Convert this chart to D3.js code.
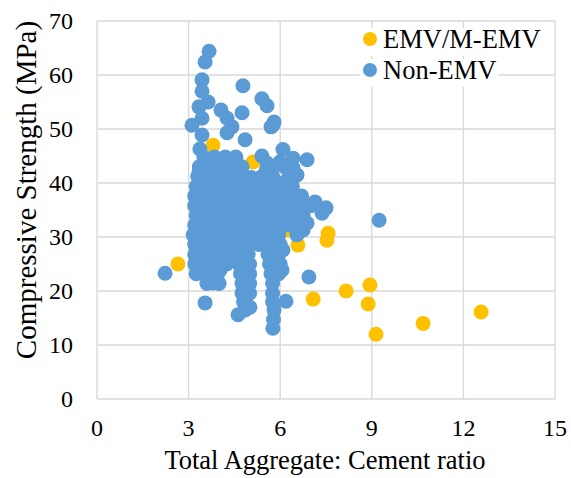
<!DOCTYPE html>
<html>
<head>
<meta charset="utf-8">
<title>Compressive strength vs aggregate:cement ratio</title>
<script src="https://cdn.jsdelivr.net/npm/d3@7/dist/d3.min.js"></script>
<style>
    body { margin: 0; background: #fff; overflow: hidden; }
    text { font-family: "Liberation Serif", "Times New Roman", serif; fill: #000; }
</style>
</head>
<body>
<div id="container"></div>
<script>
// tick labels
var xTicks = [0, 3, 6, 9, 12, 15];
var yTicks = [0, 10, 20, 30, 40, 50, 60, 70];

var seriesNames = ["EMV/M-EMV", "Non-EMV"];
var seriesColors = ["#FFC000", "#5B9BD5"];

// EMV/M-EMV points [ratio, MPa]
var emv = [
    [3.80, 47.0], [5.11, 43.9], [2.65, 25.0], [3.93, 29.8], [6.58, 28.5],
    [7.57, 30.7], [7.53, 29.4], [8.94, 21.1], [8.16, 20.0], [7.08, 18.5],
    [8.88, 17.6], [10.68, 14.0], [12.58, 16.1], [9.14, 12.0], [5.99, 35.6],
    [6.09, 31.9], [3.87, 39.1], [4.50, 33.5], [5.30, 36.5], [5.60, 30.0],
    [4.20, 27.0], [5.00, 38.5], [4.70, 42.0], [6.30, 33.0], [5.50, 31.5],
    [6.20, 31.3]
];

// Non-EMV points [ratio, MPa]
var nonEmv = [
    // upper scatter
    [3.67, 64.4], [3.54, 62.4], [3.44, 59.1], [3.44, 57.0], [4.78, 58.0],
    [5.40, 55.6], [5.57, 54.3], [3.64, 55.0], [3.34, 54.1], [4.06, 53.5],
    [4.75, 53.0], [4.26, 52.0], [3.44, 52.0], [5.80, 51.3], [5.70, 50.4],
    [5.76, 50.7], [3.11, 50.7], [4.42, 50.4], [4.26, 49.3], [3.44, 48.9],
    [4.85, 48.0], [6.09, 46.2], [3.37, 46.3], [3.34, 42.0], [5.40, 45.0],
    [5.57, 43.7], [5.99, 43.9], [6.42, 44.6], [6.88, 44.3], [6.42, 42.8],
    [6.55, 41.5], [6.16, 40.2], [5.57, 40.2], [6.65, 37.4], [7.14, 36.5],
    [7.50, 35.4], [7.37, 34.4], [6.88, 32.6], [6.75, 31.3], [6.55, 30.4],
    [5.76, 31.3], [5.76, 35.4], [5.24, 37.4],
    // dense core
    [3.50, 44.8], [3.85, 44.8], [4.20, 44.8], [4.55, 44.8],
    [3.35, 43.0], [3.70, 43.0], [4.05, 43.0], [4.40, 43.0], [4.75, 43.0], [5.55, 42.6], [5.80, 43.0], [6.15, 43.0],
    [3.30, 41.2], [3.65, 41.2], [4.00, 41.2], [4.35, 41.2], [4.70, 41.2], [5.05, 41.0], [5.40, 41.2], [5.75, 41.2], [6.30, 41.2],
    [3.25, 39.4], [3.60, 39.4], [3.95, 39.4], [4.30, 39.4], [4.65, 39.4], [5.00, 39.4], [5.35, 39.4], [5.70, 39.4], [6.05, 39.4], [6.40, 39.4],
    [3.20, 37.6], [3.55, 37.6], [3.90, 37.6], [4.25, 37.6], [4.60, 37.6], [4.95, 37.6], [5.30, 37.6], [5.65, 37.6], [6.00, 37.6], [6.35, 37.6], [6.70, 37.6],
    [3.20, 35.8], [3.50, 35.8], [3.85, 35.8], [4.20, 35.8], [4.55, 35.8], [4.90, 35.8], [5.25, 35.8], [5.60, 35.8], [5.95, 35.8], [6.30, 35.8], [6.65, 35.8], [7.00, 35.8],
    [3.25, 34.0], [3.60, 34.0], [3.95, 34.0], [4.30, 34.0], [4.65, 34.0], [5.00, 34.0], [5.35, 34.0], [5.70, 34.0], [6.05, 34.0], [6.40, 34.0], [6.75, 34.0],
    [3.20, 32.2], [3.50, 32.2], [3.85, 32.2], [4.20, 32.2], [4.55, 32.2], [4.90, 32.2], [5.25, 32.2], [5.60, 32.2], [5.95, 32.2], [6.30, 32.2], [6.60, 32.2],
    [3.15, 30.4], [3.50, 30.4], [3.85, 30.4], [4.20, 30.4], [4.55, 30.4], [4.90, 30.4], [5.25, 30.4], [5.60, 30.4], [5.95, 30.4],
    [3.20, 28.6], [3.55, 28.6], [3.90, 28.6], [4.25, 28.6], [4.60, 28.6], [4.95, 28.6], [5.30, 28.6], [5.65, 28.6], [6.00, 28.6],
    [3.20, 26.8], [3.50, 26.8], [3.85, 26.8], [4.20, 26.8], [4.60, 26.8], [4.95, 26.8], [5.60, 26.8], [5.95, 26.8],
    [3.20, 25.0], [3.55, 25.0], [3.90, 25.0], [4.25, 25.0], [4.65, 25.0], [5.00, 25.0], [5.65, 25.0], [6.00, 25.0],
    [3.25, 23.2], [3.60, 23.2], [3.95, 23.2], [4.70, 23.2], [5.00, 23.2], [5.70, 23.2], [5.95, 23.2],
    [3.60, 21.4], [4.00, 21.4], [4.75, 21.4], [5.00, 21.4], [5.75, 21.4],
    [4.75, 19.6], [5.00, 19.6], [5.75, 19.6],
    [4.80, 18.0], [5.75, 18.0], [4.85, 16.5], [5.80, 16.5],
    // lower / outer points
    [5.76, 13.1], [5.78, 14.7], [4.62, 15.6], [5.01, 17.0], [3.54, 17.8],
    [3.80, 21.5], [4.03, 23.9], [6.94, 22.6], [6.19, 18.1], [6.06, 23.9],
    [6.09, 27.6], [2.23, 23.3], [9.24, 33.1]
];

var W = 571, H = 478;
var x0 = 97, x1 = 555, y0 = 399, y1 = 21;

var svg = d3.select("#container").append("svg")
    .attr("width", W).attr("height", H);

var x = d3.scaleLinear().domain([0, 15]).range([x0, x1]);
var y = d3.scaleLinear().domain([0, 70]).range([y0, y1]);

var gridColor = "#D9D9D9";

// grid + frame
svg.append("g").selectAll("line.h").data(yTicks).enter().append("line")
    .attr("x1", x0).attr("x2", x1)
    .attr("y1", function (d) { return y(d); }).attr("y2", function (d) { return y(d); })
    .attr("stroke", gridColor).attr("stroke-width", 1.4);
svg.append("g").selectAll("line.v").data(xTicks).enter().append("line")
    .attr("y1", y0).attr("y2", y1)
    .attr("x1", function (d) { return x(d); }).attr("x2", function (d) { return x(d); })
    .attr("stroke", gridColor).attr("stroke-width", 1.4);

// tick labels
svg.append("g").selectAll("text").data(yTicks).enter().append("text")
    .attr("x", 73).attr("y", function (d) { return y(d); }).attr("dy", "0.34em")
    .attr("text-anchor", "end").style("font-size", "24px")
    .text(function (d) { return d; });
svg.append("g").selectAll("text").data(xTicks).enter().append("text")
    .attr("x", function (d) { return x(d); }).attr("y", 436)
    .attr("text-anchor", "middle").style("font-size", "24px")
    .text(function (d) { return d; });

// axis titles
svg.append("text").attr("x", 325).attr("y", 469)
    .attr("text-anchor", "middle").style("font-size", "26.5px")
    .text("Total Aggregate: Cement ratio");
svg.append("text")
    .attr("transform", "translate(36,190) rotate(-90)")
    .attr("text-anchor", "middle").style("font-size", "29px")
    .text("Compressive Strength (MPa)");

// points
var r = 7.5;
svg.append("g").selectAll("circle").data(emv).enter().append("circle")
    .attr("cx", function (d) { return x(d[0]); }).attr("cy", function (d) { return y(d[1]); })
    .attr("r", r).attr("fill", seriesColors[0]);
svg.append("g").selectAll("circle").data(nonEmv).enter().append("circle")
    .attr("cx", function (d) { return x(d[0]); }).attr("cy", function (d) { return y(d[1]); })
    .attr("r", r).attr("fill", seriesColors[1]);

// legend
var legend = svg.append("g");
seriesNames.forEach(function (name, i) {
    var base = 48 + i * 31;
    var t = legend.append("text").attr("x", 383).attr("y", base)
        .style("font-size", "26.5px").text(name);
    var bb = t.node().getBBox();
    legend.insert("rect", "text").attr("x", 360).attr("y", base - 20)
        .attr("width", bb.x + bb.width - 358).attr("height", 28).attr("fill", "#fff");
    legend.append("circle").attr("cx", 370).attr("cy", base - 9).attr("r", 7)
        .attr("fill", seriesColors[i]);
});
</script>
</body>
</html>
